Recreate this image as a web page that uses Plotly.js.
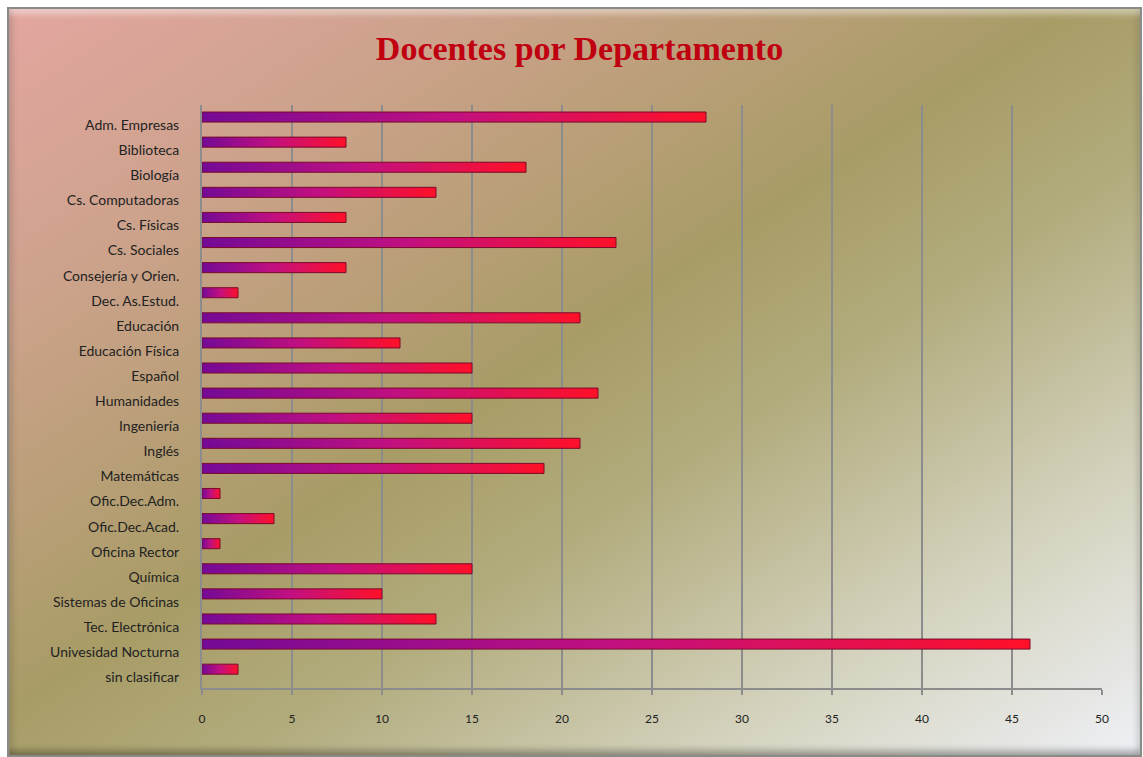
<!DOCTYPE html>
<html>
<head>
<meta charset="utf-8">
<script src="https://cdn.plot.ly/plotly-3.0.1.min.js"></script>
<style>
  html, body { margin: 0; padding: 0; background: #ffffff; width: 1143px; height: 757px; overflow: hidden; }
  #frame {
    position: absolute; left: 7px; top: 7px; width: 1131px; height: 746px;
    border: 2px solid #8a8a86;
    background: linear-gradient(to bottom right, #e3a6a0 0%, #cda28c 20%, #a89c66 47%, #b1ab7c 60%, #d6d5c2 82%, #eef0f6 100%);
    box-shadow: inset 0 7px 6px -2px rgba(255,255,255,0.45), inset 0 -7px 6px -2px rgba(0,0,0,0.28), inset 6px 0 6px -3px rgba(0,0,0,0.15), inset -6px 0 6px -3px rgba(0,0,0,0.12);
  }
  #chart { position: absolute; left: 0; top: 0; width: 1143px; height: 757px; }
</style>
</head>
<body>
<div id="frame"></div>
<div id="chart"></div>
<script>
const categories = [
  "Adm. Empresas", "Biblioteca", "Biología", "Cs. Computadoras", "Cs. Físicas",
  "Cs. Sociales", "Consejería y Orien.", "Dec. As.Estud.", "Educación", "Educación Física",
  "Español", "Humanidades", "Ingeniería", "Inglés", "Matemáticas",
  "Ofic.Dec.Adm.", "Ofic.Dec.Acad.", "Oficina Rector", "Química", "Sistemas de Oficinas",
  "Tec. Electrónica", "Univesidad Nocturna", "sin clasificar"
];
const docentes = [28, 8, 18, 13, 8, 23, 8, 2, 21, 11, 15, 22, 15, 21, 19, 1, 4, 1, 15, 10, 13, 46, 2];
const xTicks = [0, 5, 10, 15, 20, 25, 30, 35, 40, 45, 50];

const barOffset = 0.32;   // bars sit slightly above their labels (3D look)
const halfThick = 0.2;

const traces = categories.map((cat, i) => {
  const v = docentes[i];
  const c = i - barOffset;
  return {
    type: 'scatter', mode: 'lines',
    x: [0, v, v, 0, 0],
    y: [c - halfThick, c - halfThick, c + halfThick, c + halfThick, c - halfThick],
    fill: 'toself',
    fillcolor: '#c0105a',
    fillgradient: { type: 'horizontal', colorscale: [[0, '#740a96'], [0.5, '#c21080'], [1, '#ff1028']] },
    line: { color: '#7a0a2a', width: 1 },
    name: cat, showlegend: false,
    hoveron: 'fills', hoverinfo: 'text', text: cat + ': ' + v
  };
});

const layout = {
  width: 1143, height: 757,
  paper_bgcolor: 'rgba(0,0,0,0)', plot_bgcolor: 'rgba(0,0,0,0)',
  margin: { l: 202, r: 41, t: 105, b: 69 },
  showlegend: false,
  title: {
    text: 'Docentes por Departamento',
    font: { family: 'Liberation Serif', size: 34, color: '#c00010', weight: 'bold' },
    x: 0.507, xanchor: 'center', y: 0.937, yanchor: 'middle', xref: 'container', yref: 'container'
  },
  xaxis: {
    range: [0, 50], tickvals: xTicks, ticktext: xTicks.map(String),
    showgrid: true, gridcolor: '#8c8c8c', gridwidth: 2,
    zeroline: false, showline: true, linecolor: '#8c8c8c', linewidth: 2,
    ticks: 'outside', ticklen: 5, tickcolor: '#8c8c8c', tickwidth: 2,
    ticklabelstandoff: 14,
    tickfont: { family: 'Lato', size: 12, color: '#222222' },
    fixedrange: true
  },
  yaxis: {
    range: [22.43, -0.8],
    tickvals: categories.map((c, i) => i), ticktext: categories,
    showgrid: false, zeroline: false, showline: true, linecolor: '#8c8c8c', linewidth: 2,
    ticks: '', ticklabelstandoff: 18,
    tickfont: { family: 'Lato', size: 14, color: '#222222' },
    fixedrange: true
  }
};

Plotly.newPlot('chart', traces, layout, { displayModeBar: false, staticPlot: false });
</script>
</body>
</html>
